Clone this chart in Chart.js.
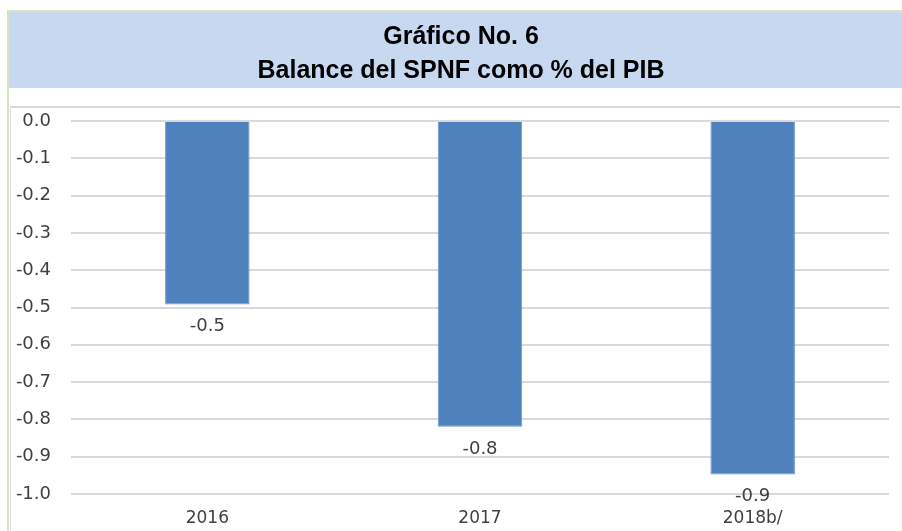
<!DOCTYPE html>
<html lang="es">
<head>
  <meta charset="UTF-8">
  <title>Balance del SPNF como % del PIB</title>
  <script src="https://cdn.jsdelivr.net/npm/chart.js"></script>
  <style>
    html, body { margin: 0; padding: 0; background: #fff; }
    #wrap { position: relative; width: 902px; height: 531px; }
  </style>
</head>
<body>
  <div id="wrap"><canvas id="myChart" width="902" height="531"></canvas></div>

  <script>
    // datos
    const years = ['2016', '2017', '2018b/'];
    const balance = [-0.492, -0.82, -0.948];
    const titleLines = ['Gráfico No. 6', 'Balance del SPNF como % del PIB'];

    // marco verde + banda azul con el titulo + recuadro gris del grafico
    const framePlugin = {
      id: 'frame',
      beforeDraw(chart) {
        const c = chart.ctx;
        const w = chart.width, h = chart.height;
        c.save();
        c.fillStyle = '#c6d9f1';
        c.fillRect(9, 11, w - 9, 77);
        c.fillStyle = '#d7e4bd';
        c.fillRect(7, 10, w - 7, 2);
        c.fillRect(7, 10, 2, h - 10);
        c.fillStyle = '#d9d9d9';
        c.fillRect(10, 106, w - 12, 2);
        c.fillRect(10, 106, 1, h - 106);

        c.fillStyle = '#000';
        c.font = 'bold 25px "Liberation Sans"';
        c.textAlign = 'center';
        c.textBaseline = 'middle';
        titleLines.forEach((t, i) => c.fillText(t, 461, 37 + i * 34));
        c.restore();
      }
    };

    // etiquetas de valor debajo de cada barra
    const valueLabels = {
      id: 'valueLabels',
      afterDatasetsDraw(chart) {
        const c = chart.ctx;
        const meta = chart.getDatasetMeta(0);
        c.save();
        c.font = '18px "DejaVu Sans"';
        c.fillStyle = '#404040';
        c.textAlign = 'center';
        c.textBaseline = 'middle';
        meta.data.forEach((bar, i) => {
          c.fillText(balance[i].toFixed(1), bar.x, bar.y + 22);
        });
        c.restore();
      }
    };

    const ctx = document.getElementById('myChart').getContext('2d');
    new Chart(ctx, {
      type: 'bar',
      data: {
        labels: years,
        datasets: [{
          data: balance,
          backgroundColor: '#4f81bd',
          borderColor: '#6f97c9',
          borderWidth: 1,
          categoryPercentage: 1,
          barPercentage: 0.31
        }]
      },
      plugins: [framePlugin, valueLabels],
      options: {
        responsive: false,
        animation: false,
        layout: { padding: { left: 11, right: 13, top: 121, bottom: 0 } },
        plugins: {
          legend: { display: false },
          tooltip: { enabled: false },
          title: { display: false }
        },
        scales: {
          x: {
            afterFit: s => { s.height = 37; },
            grid: { display: false, drawTicks: false },
            border: { display: false },
            ticks: { color: '#404040', font: { family: 'DejaVu Sans', size: 17 }, padding: 14 }
          },
          y: {
            min: -1,
            max: 0,
            afterFit: s => { s.width = 60; },
            grid: { color: '#d9d9d9', lineWidth: 2, drawTicks: false },
            border: { display: false },
            ticks: {
              stepSize: 0.1,
              padding: 20,
              color: '#404040',
              font: { family: 'DejaVu Sans', size: 18 },
              callback: v => Number(v).toFixed(1)
            }
          }
        }
      }
    });
  </script>
</body>
</html>
